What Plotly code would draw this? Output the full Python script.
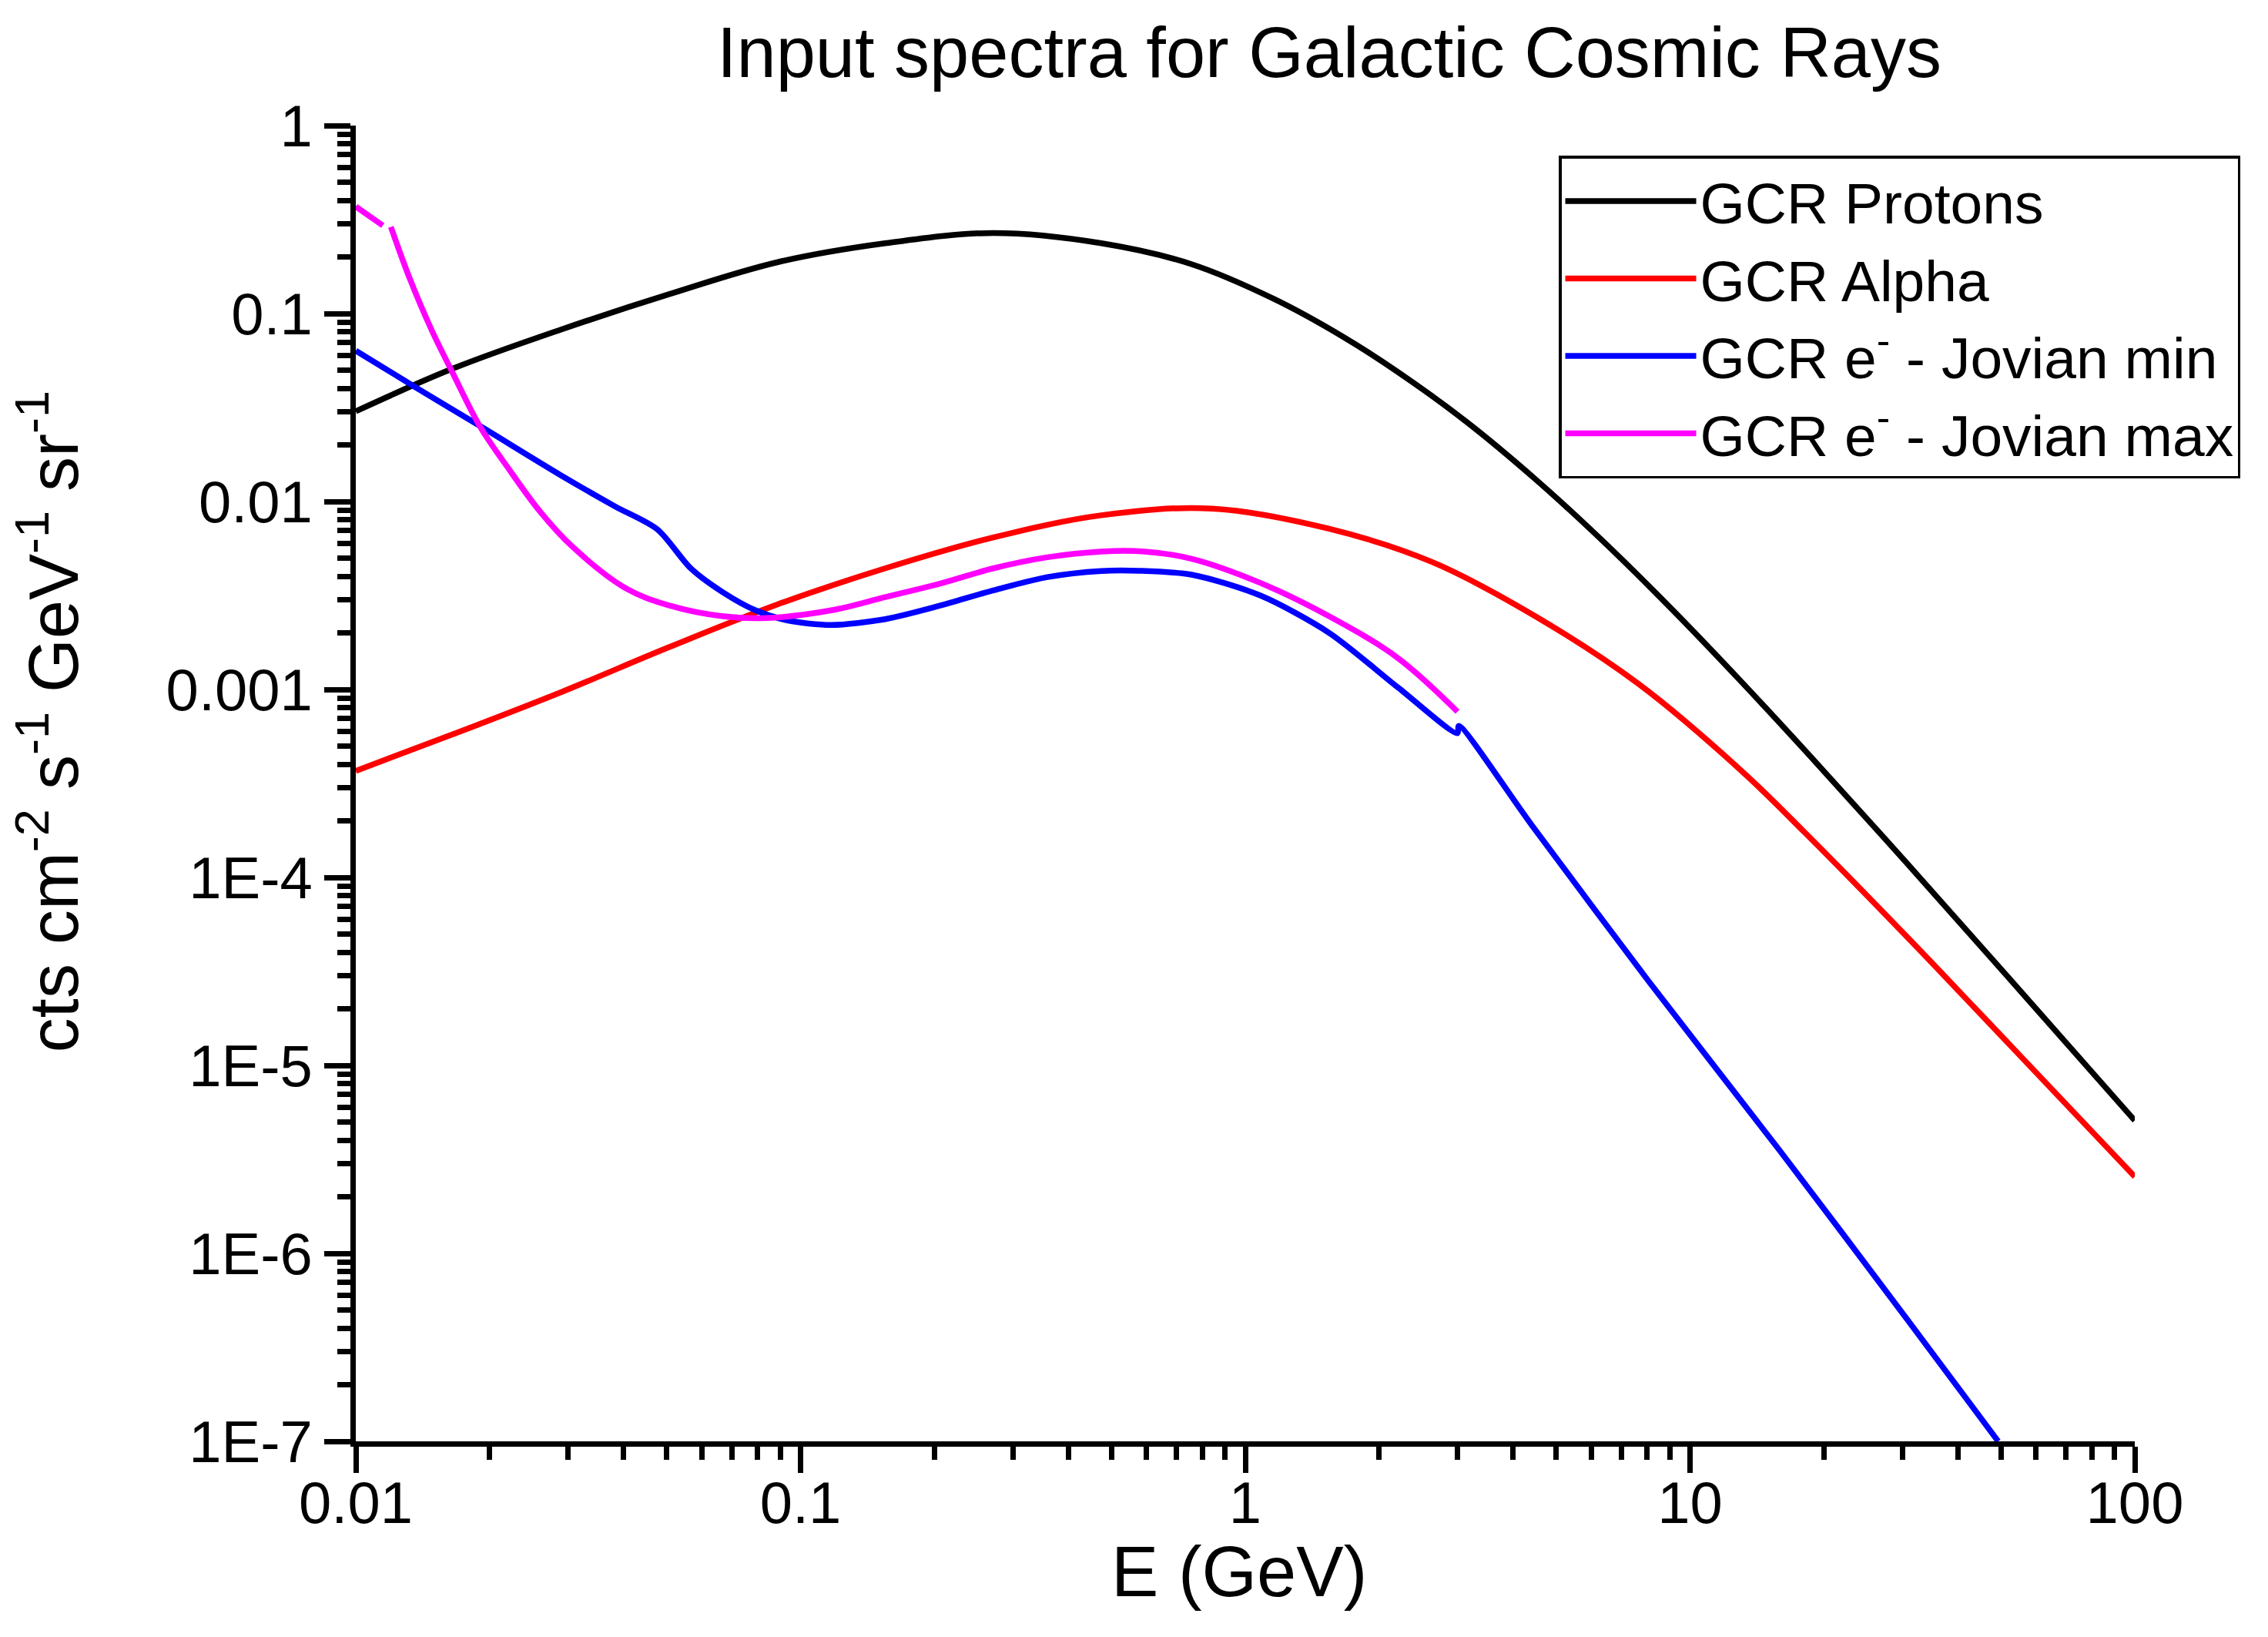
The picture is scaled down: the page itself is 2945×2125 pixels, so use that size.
import plotly.graph_objects as go

FONT = "Liberation Sans, Arial, sans-serif"

# ---- data (E in GeV, flux in cts cm^-2 s^-1 GeV^-1 sr^-1) ----
proton_E = [0.01, 0.01655, 0.02896, 0.05064, 0.0886, 0.155, 0.2713, 0.4747, 0.7573,
            1.161, 1.657, 2.203, 3.146, 4.49, 6.41, 9.15, 13.07, 18.66, 30.9, 52.8, 100]
proton_F = [0.0302, 0.0510, 0.0822, 0.1267, 0.1873, 0.2365, 0.268, 0.2365, 0.183,
            0.1195, 0.0754, 0.0489, 0.0265, 0.01315, 6.07e-3, 2.64e-3, 1.094e-3, 4.40e-4,
            1.173e-4, 2.82e-5, 5.09e-6]

alpha_E = [0.01, 0.01655, 0.02896, 0.05064, 0.0886, 0.155, 0.2713, 0.4747, 0.842,
           1.544, 2.633, 4.49, 7.66, 13.07, 18.13, 30.9, 52.8, 100]
alpha_F = [3.69e-4, 5.78e-4, 9.68e-4, 1.68e-3, 2.83e-3, 4.41e-3, 6.44e-3, 8.45e-3, 9.17e-3,
           7.16e-3, 4.76e-3, 2.45e-3, 1.07e-3, 3.68e-4, 1.73e-4, 4.77e-5, 1.26e-5, 2.56e-6]

emin_E = [0.01, 0.0136, 0.01903, 0.02896, 0.0383, 0.04764, 0.05664, 0.067, 0.07922,
          0.09371, 0.1172, 0.155, 0.2051, 0.2713, 0.3589, 0.4747, 0.5772, 0.7573,
          1.081, 1.544, 2.203, 3.0, 3.02, 4.405, 8.14, 15.86, 30.9, 49.3]
emin_F = [0.0634, 0.0406, 0.0252, 0.01376, 0.00941, 0.00711, 0.00441, 0.00328, 0.002636,
          0.002328, 0.002205, 0.002367, 0.002785, 0.003366, 0.00396, 0.00427, 0.00428, 0.00408,
          0.00316, 0.0020, 0.001026, 5.85e-4, 6.4e-4, 1.90e-4, 2.73e-5, 3.56e-6, 4.4e-7, 1.0e-7]

emax_E = [0.01, 0.0115, None, 0.01199, 0.01323, 0.01479, 0.01655, 0.01903, 0.02189,
          0.02588, 0.03062, 0.0405, 0.05064, 0.067, 0.08381, 0.1172, 0.155, 0.2051,
          0.2713, 0.3589, 0.4747, 0.5935, 0.7573, 1.081, 1.544, 2.203, 3.0]
emax_F = [0.371, 0.294, None, 0.289, 0.153, 0.0822, 0.0478, 0.0250, 0.01534,
          0.00892, 0.00578, 0.00345, 0.00280, 0.00245, 0.0024, 0.002636, 0.0031, 0.00365,
          0.00441, 0.00505, 0.00542, 0.00542, 0.00496, 0.00369, 0.00245, 0.00147, 7.62e-4]

series_names = ["GCR Protons", "GCR Alpha",
                "GCR e<sup>-</sup> - Jovian min", "GCR e<sup>-</sup> - Jovian max"]
series_colors = ["#000000", "#FF0000", "#0000FF", "#FF00FF"]

x_tickvals = [0.01, 0.1, 1, 10, 100]
x_ticktext = ["0.01", "0.1", "1", "10", "100"]
y_tickvals = [1, 0.1, 0.01, 0.001, 1e-4, 1e-5, 1e-6, 1e-7]
y_ticktext = ["1", "0.1", "0.01", "0.001", "1E-4", "1E-5", "1E-6", "1E-7"]

title_text = "Input spectra for Galactic Cosmic Rays"
x_title = "E (GeV)"
y_title = "cts cm<sup>-2</sup> s<sup>-1</sup> GeV<sup>-1</sup> sr<sup>-1</sup>"

fig = go.Figure()
data = [(proton_E, proton_F, 1.0), (alpha_E, alpha_F, 1.0),
        (emin_E, emin_F, 0.8), (emax_E, emax_F, 1.0)]
for (xs, ys, sm), name, color in zip(data, series_names, series_colors):
    fig.add_trace(go.Scatter(x=xs, y=ys, mode="lines", name=name,
                             line=dict(color=color, width=7.5, shape="spline",
                                       smoothing=sm),
                             connectgaps=False))

axis_common = dict(
    type="log", showline=True, linewidth=7, linecolor="black", mirror=False,
    showgrid=False, zeroline=False, ticks="outside", ticklen=34, tickwidth=7,
    tickcolor="black", tickmode="array",
    tickfont=dict(family=FONT, size=76, color="black"),
    minor=dict(ticks="outside", ticklen=17, tickwidth=7, tickcolor="black",
               dtick="D1", showgrid=False),
)

fig.update_layout(
    width=2945, height=2125, autosize=False,
    paper_bgcolor="white", plot_bgcolor="white",
    margin=dict(l=454, r=181, t=155, b=262),
    font=dict(family=FONT, color="black"),
    title=dict(text=title_text, x=1718 / 2945, xref="container", xanchor="center",
               y=1 - 60 / 2125, yref="container", yanchor="middle",
               font=dict(family=FONT, size=92, color="black")),
    xaxis=dict(axis_common, range=[-2, 2], tickvals=x_tickvals, ticktext=x_ticktext,
               ticklabelstandoff=-26),
    yaxis=dict(axis_common, range=[-7, 0], tickvals=y_tickvals, ticktext=y_ticktext),
    showlegend=True,
    legend=dict(x=0.6762, y=0.977, xanchor="left", yanchor="top",
                bgcolor="white", bordercolor="black", borderwidth=3.5,
                font=dict(family=FONT, size=75, color="black"),
                itemwidth=170, tracegroupgap=0),
    annotations=[
        dict(text=y_title, textangle=-90, xref="paper", yref="paper",
             x=-0.1727, y=0.5468, xanchor="center", yanchor="middle", showarrow=False,
             font=dict(family=FONT, size=90, color="black")),
        dict(text=x_title, xref="paper", yref="paper",
             x=0.4965, y=-0.0989, xanchor="center", yanchor="middle", showarrow=False,
             font=dict(family=FONT, size=92, color="black")),
    ],
)

fig.write_html("out.html")
